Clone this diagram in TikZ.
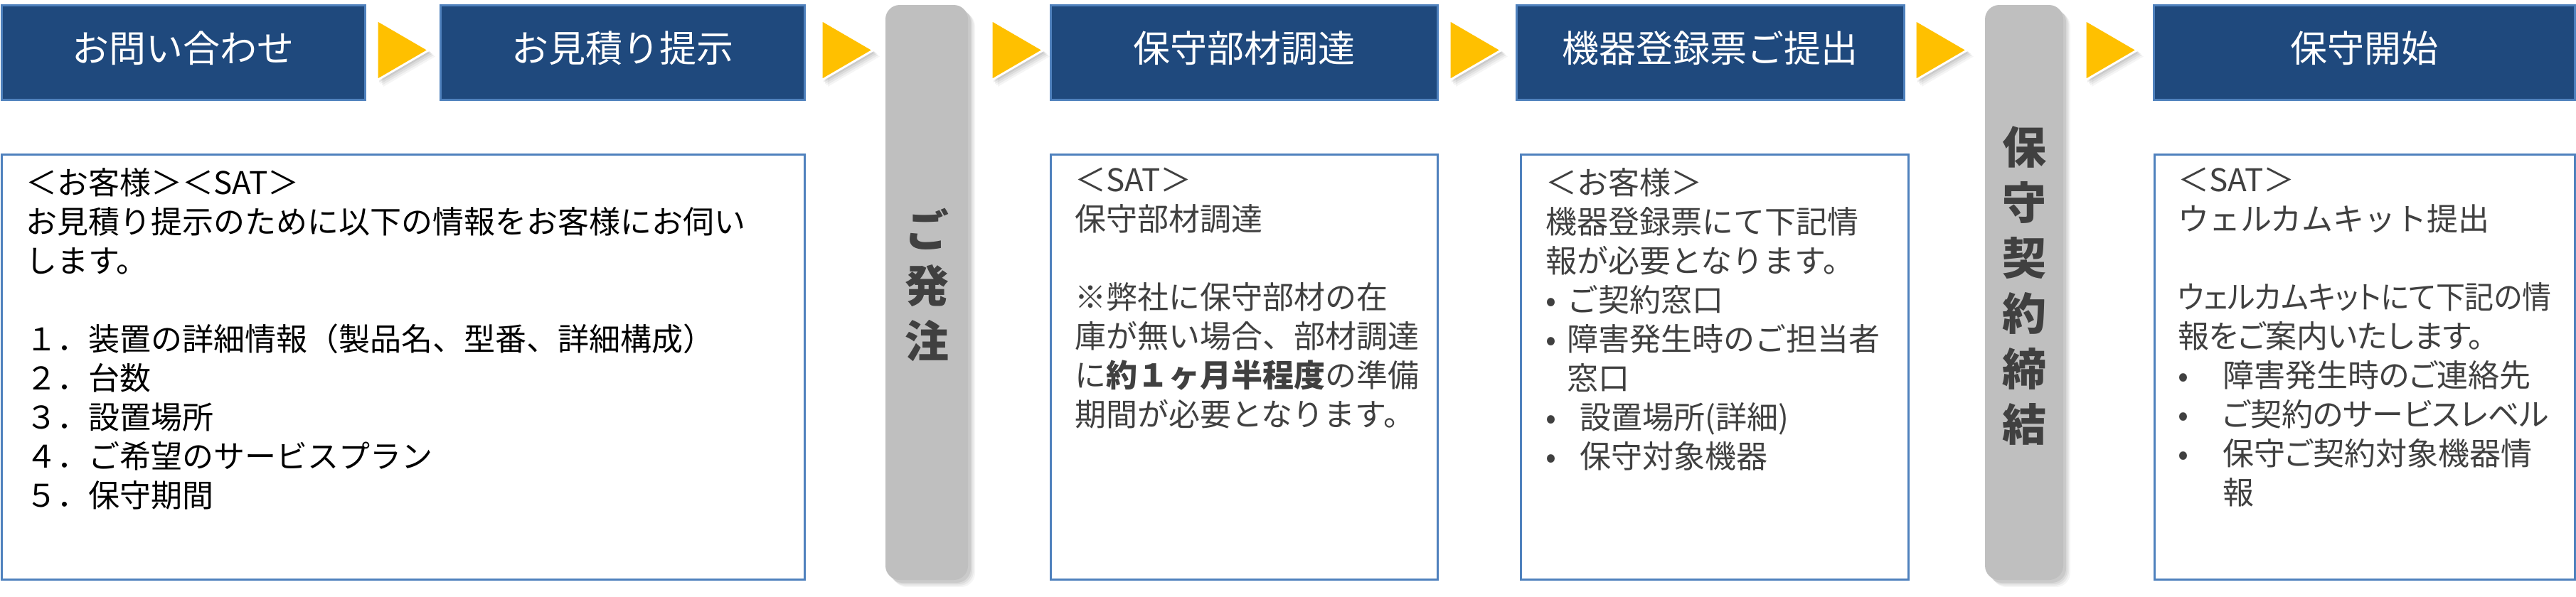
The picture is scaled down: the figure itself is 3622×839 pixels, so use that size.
\documentclass[tikz,border=0pt]{standalone}
\usepackage{graphicx}
\usepackage{fontspec}
\setmainfont{Noto Sans CJK JP}
\newfontfamily\jpp[RawFeature=+palt]{Noto Sans CJK JP}
\definecolor{hdrblue}{RGB}{31,73,125}
\definecolor{edgeblue}{RGB}{79,129,189}
\definecolor{arrowyel}{RGB}{255,192,0}
\definecolor{bargray}{RGB}{191,191,191}
\definecolor{txtgray}{RGB}{64,64,64}
\newcommand{\arrowtri}[1]{%
  \foreach \s/\o in {9/0.04,7/0.05,5/0.06,3/0.07}{%
    \fill[black,opacity=\o] (#1+\s,28+\s) -- (#1+\s,113+\s) -- (#1+73+\s,70.5+\s) -- cycle;}
  \draw[tri] (#1,28) -- (#1,113) -- (#1+73,70.5) -- cycle;}
\newcommand{\barshadow}[2]{%
  \foreach \s/\o in {10/0.04,8/0.05,6/0.06,4/0.07}{%
    \fill[black,opacity=\o,rounded corners=20pt] (#1+\s,7+\s) rectangle (#2+\s,816+\s);}}
\begin{document}
\begin{tikzpicture}[x=1pt,y=-1pt,
  hdr/.style={draw=edgeblue, line width=3pt, fill=hdrblue, inner sep=0pt, minimum height=133pt},
  hdrtext/.style={text=white, font=\fontsize{52}{60}\selectfont, inner sep=0pt},
  body/.style={draw=edgeblue, line width=3pt, fill=white, inner sep=0pt, minimum height=598pt},
  bodytext/.style={anchor=north west, align=left, inner sep=0pt, text=txtgray, font=\fontsize{44}{55}\selectfont},
  bar/.style={fill=bargray, rounded corners=20pt, inner sep=0pt, minimum height=809pt},
  bartext/.style={text=txtgray, align=center, font=\fontsize{62}{78}\selectfont\bfseries, inner sep=0pt},
  tri/.style={fill=arrowyel, draw=white, line width=3pt, line join=miter}
]
\useasboundingbox (0,0) rectangle (3622,839);
\fill[white] (0,0) rectangle (3622,839);

% headers
\node[hdr, minimum width=511pt] (h1) at (257.5,73.5) {};
\node[hdr, minimum width=512pt] (h2) at (875,73.5) {};
\node[hdr, minimum width=544pt] (h3) at (1749,73.5) {};
\node[hdr, minimum width=545pt] (h4) at (2404.5,73.5) {};
\node[hdr, minimum width=592pt] (h5) at (3324,73.5) {};
\node[hdrtext] (t1) at ([yshift=6pt]h1.center) {お問い合わせ};
\node[hdrtext] (t2) at ([yshift=6pt]h2.center) {お見積り提示};
\node[hdrtext] (t3) at ([yshift=6pt]h3.center) {保守部材調達};
\node[hdrtext] (t4) at ([yshift=6pt]h4.center) {機器登録票ご提出};
\node[hdrtext] (t5) at ([yshift=6pt]h5.center) {保守開始};

% arrows
\arrowtri{530}
\arrowtri{1155}
\arrowtri{1394}
\arrowtri{2038}
\arrowtri{2693}
\arrowtri{2932}

% gray bars
\barshadow{1245}{1361}
\barshadow{2791}{2901}
\node[bar, minimum width=116pt] (g1) at (1303,411.5) {};
\node[bar, minimum width=110pt] (g2) at (2846,411.5) {};
\node[bartext] (gt1) at (1303,401) {ご\\発\\注};
\node[bartext] (gt2) at (2846,402) {保\\守\\契\\約\\締\\結};

% body boxes
\node[body, minimum width=1129pt] (b1) at (566.5,516) {};
\node[body, minimum width=544pt] (b3) at (1749,516) {};
\node[body, minimum width=545pt] (b4) at (2410.5,516) {};
\node[body, minimum width=591pt] (b5) at (3324.5,516) {};

\node[bodytext, text=black] (bt1) at (36,236) {＜お客様＞＜SAT＞\\
お見積り提示のために以下の情報をお客様にお伺い\\
します。\\[55pt]
１．装置の詳細情報（製品名、型番、詳細構成）\\
２．台数\\
３．設置場所\\
４．ご希望のサービスプラン\\
５．保守期間};

\node[bodytext] (bt3) at (1511,236) {＜SAT＞\\
保守部材調達\\[55pt]
※弊社に保守部材の在\\
庫が無い場合、部材調達\\
に{\bfseries 約１ヶ月半程度}の準備\\
期間が必要となります。};

\node[bodytext] (bt4) at (2173,236) {＜お客様＞\\
機器登録票にて下記情\\
報が必要となります。\\
\makebox[30pt][l]{•}ご契約窓口\\
\makebox[30pt][l]{•}障害発生時のご担当者\\
\hspace*{30pt}窓口\\
\makebox[48pt][l]{•}設置場所(詳細)\\
\makebox[48pt][l]{•}保守対象機器};

\node[bodytext] (bt5) at (3062,236) {＜SAT＞\\
ウェルカムキット提出\\[55pt]
\scalebox{0.93}[1]{\jpp ウェルカムキットにて下記の情}\\
{\jpp 報をご案内いたします。}\\
\makebox[63pt][l]{•}{\jpp 障害発生時のご連絡先}\\
\makebox[63pt][l]{•}{\jpp ご契約のサービスレベル}\\
\makebox[63pt][l]{•}{\jpp 保守ご契約対象機器情}\\
\hspace*{63pt}{\jpp 報}};
\end{tikzpicture}
\end{document}
